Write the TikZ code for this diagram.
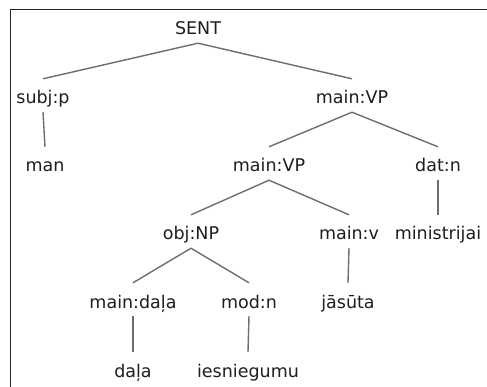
\documentclass[tikz,border=0pt]{standalone}
\usepackage{fontspec}
\setmainfont{DejaVu Sans}
\definecolor{edgegray}{HTML}{6E6E6E}
\definecolor{txt}{HTML}{1E1E1E}
\begin{document}
\begin{tikzpicture}[x=1pt,y=-1pt,
  lbl/.style={anchor=base,inner sep=0pt,text height=25pt,text depth=8pt,
    font=\fontsize{17.5pt}{20pt}\selectfont,text=txt},
  edge/.style={draw=edgegray,line width=1.4pt}]
\useasboundingbox (0,0) rectangle (487,387);
\fill[white] (0,0) rectangle (487,387);
\draw[line width=1.4pt,black!85] (10.5,387) -- (10.5,9.5) -- (487,9.5);
% level 0
\node[lbl] (sent) at (198,35) {SENT};
% level 1
\node[lbl] (subj) at (43,104) {subj:p};
\node[lbl] (vp1) at (352,104) {main:VP};
% level 2
\node[lbl] (man) at (45,172) {man};
\node[lbl] (vp2) at (269,172) {main:VP};
\node[lbl] (dat) at (438,172) {dat:n};
% level 3
\node[lbl] (obj) at (191,240) {obj:NP};
\node[lbl] (mainv) at (349,240) {main:v};
\node[lbl] (min) at (438,240) {ministrijai};
% level 4
\node[lbl] (mdala) at (133,308) {main:daļa};
\node[lbl] (mod) at (249,308) {mod:n};
\node[lbl] (jas) at (348,308) {jāsūta};
% level 5
\node[lbl] (dala) at (133,377) {daļa};
\node[lbl] (ies) at (248,377) {iesniegumu};
% edges
\path[edge] (sent.south) -- (subj.north);
\path[edge] (sent.south) -- (vp1.north);
\path[edge] (subj.south) -- (man.north);
\path[edge] (vp1.south) -- (vp2.north);
\path[edge] (vp1.south) -- (dat.north);
\path[edge] (vp2.south) -- (obj.north);
\path[edge] (vp2.south) -- (mainv.north);
\path[edge] (dat.south) -- (min.north);
\path[edge] (obj.south) -- (mdala.north);
\path[edge] (obj.south) -- (mod.north);
\path[edge] (mainv.south) -- (jas.north);
\path[edge] (mdala.south) -- (dala.north);
\path[edge] (mod.south) -- (ies.north);
\end{tikzpicture}
\end{document}
